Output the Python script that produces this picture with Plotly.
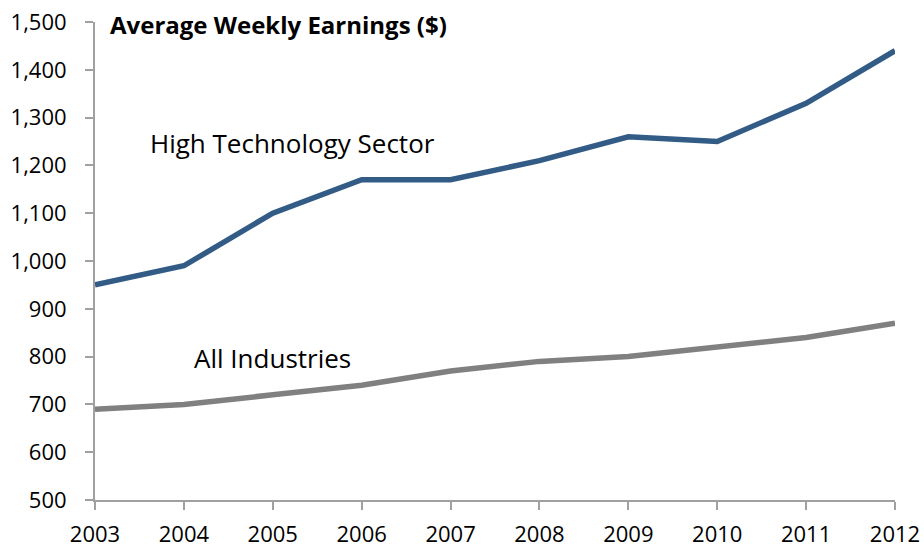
import plotly.graph_objects as go

years = [2003, 2004, 2005, 2006, 2007, 2008, 2009, 2010, 2011, 2012]
high_tech = [950, 990, 1100, 1170, 1170, 1210, 1260, 1250, 1330, 1440]
all_industries = [690, 700, 720, 740, 770, 790, 800, 820, 840, 870]
y_ticks = [500, 600, 700, 800, 900, 1000, 1100, 1200, 1300, 1400, 1500]

FONT = "Open Sans"

fig = go.Figure()
fig.add_trace(go.Scatter(x=years, y=high_tech, mode="lines", name="High Technology Sector",
                         line=dict(color="#325C86", width=5.5), hoverinfo="skip"))
fig.add_trace(go.Scatter(x=years, y=all_industries, mode="lines", name="All Industries",
                         line=dict(color="#808080", width=5.5), hoverinfo="skip"))

fig.update_layout(
    width=924, height=548,
    margin=dict(l=95, r=29, t=22, b=48),
    paper_bgcolor="white", plot_bgcolor="white",
    showlegend=False,
    font=dict(family=FONT, size=22, color="black"),
)
fig.update_xaxes(
    range=[2003, 2012], tickmode="array", tickvals=years, ticktext=[str(y) for y in years],
    showgrid=False, zeroline=False, showline=True, linecolor="#A0A0A0", linewidth=2,
    ticks="outside", ticklen=8, tickcolor="#A0A0A0", tickwidth=2,
    tickfont=dict(family=FONT, size=22), ticklabelstandoff=6, automargin=False,
    ticklabeloverflow="allow",
)
fig.update_yaxes(
    range=[500, 1500], tickmode="array", tickvals=y_ticks,
    ticktext=[f"{v:,}" for v in y_ticks],
    showgrid=False, zeroline=False, showline=True, linecolor="#A0A0A0", linewidth=2,
    ticks="outside", ticklen=8, tickcolor="#A0A0A0", tickwidth=2,
    tickfont=dict(family=FONT, size=22), ticklabelstandoff=14, automargin=False,
    ticklabeloverflow="allow",
)

fig.add_annotation(x=0.016, y=0.994, xref="paper", yref="paper", xanchor="left", yanchor="middle",
                   text="<b>Average Weekly Earnings ($)</b>", showarrow=False,
                   font=dict(family=FONT, size=24, color="black"))
fig.add_annotation(x=2003.6, y=1247, xanchor="left", yanchor="middle",
                   text="High Technology Sector", showarrow=False,
                   font=dict(family=FONT, size=26, color="black"))
fig.add_annotation(x=2004.09, y=797, xanchor="left", yanchor="middle",
                   text="All Industries", showarrow=False,
                   font=dict(family=FONT, size=26, color="black"))

# remove the default page margin so the figure fills the window exactly
fig.write_html("out.html", config={"displayModeBar": False},
               post_script="document.body.style.margin='0';document.body.style.overflow='hidden';")
